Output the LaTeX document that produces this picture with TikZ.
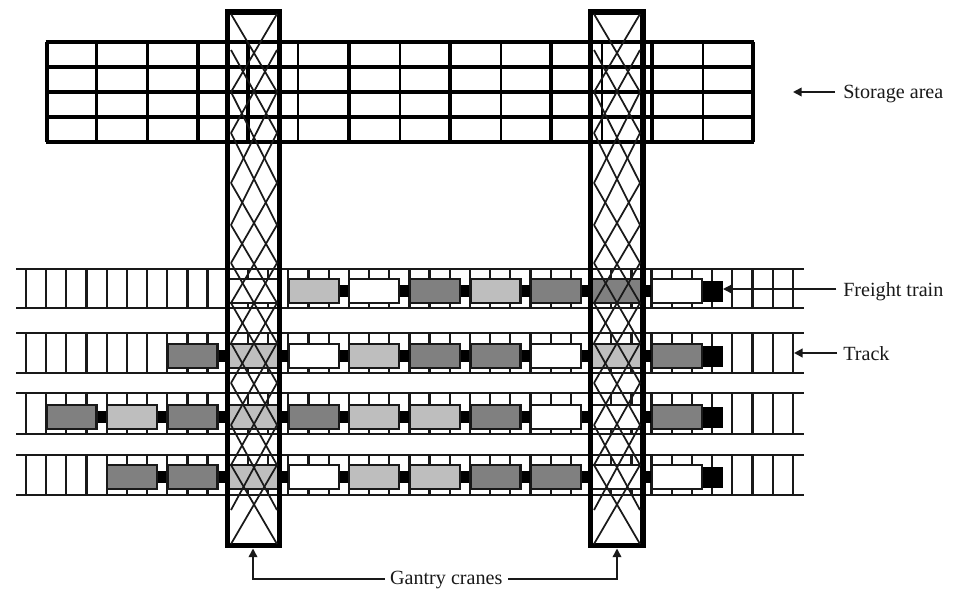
\documentclass[tikz,border=0pt]{standalone}
\usepackage{fontspec}
\setmainfont{Liberation Serif}
\usetikzlibrary{arrows.meta}
\definecolor{cardark}{HTML}{808080}
\definecolor{carlight}{HTML}{BEBEBE}
\tikzset{
  gridline/.style={line width=2.7pt,black},
  gridthin/.style={line width=2.1pt,black},
  rail/.style={line width=1.7pt,black!90},
  tie/.style={line width=1.7pt,black!90},
  car/.style={draw=black!90,line width=1.8pt},
  coupler/.style={fill=black},
  crane/.style={draw=black,line width=4.2pt},
  lattice/.style={line width=1.3pt,black!90},
  lbl/.style={font=\fontsize{15.1}{18}\selectfont,inner sep=0pt,anchor=base west,text=black!90},
  pointer/.style={-{Triangle[length=6.5pt,width=6.5pt]},black!90},
}
\begin{document}
\begin{tikzpicture}[x=0.75pt,y=-0.75pt]
\useasboundingbox (0,0) rectangle (970,593);
\fill[white] (0,0) rectangle (970,593);
% storage area
\foreach \y in {42,67,92,117,142} \draw[gridline] (45.5,\y) -- (754,\y);
\foreach \x in {46.7,96.5,198,248,349,450,551,652,753} \draw[gridline] (\x,42) -- (\x,142);
\foreach \x in {147.5,298,400,501,602,703} \draw[gridthin] (\x,42) -- (\x,142);
% tracks
\foreach \top/\bot in {269/308,333/373,393/434,455/495}{
  \foreach \i in {0,...,38} \draw[tie] ({26+20.18*\i},\top) -- ({26+20.18*\i},\bot);
  \draw[rail] (16,\top) -- (804,\top) (16,\bot) -- (804,\bot);
}
% trains: row centre / list of cars
\foreach \cy/\first/\cars in {
  291/4/{4/carlight,5/white,6/cardark,7/carlight,8/cardark,9/cardark,10/white},
  356/2/{2/cardark,3/carlight,4/white,5/carlight,6/cardark,7/cardark,8/white,9/carlight,10/cardark},
  417/0/{0/cardark,1/carlight,2/cardark,3/carlight,4/cardark,5/carlight,6/carlight,7/cardark,8/white,9/white,10/cardark},
  477/1/{1/cardark,2/cardark,3/carlight,4/white,5/carlight,6/carlight,7/cardark,8/cardark,9/white,10/white}}{
  \foreach \k in {\first,...,9}
    \fill[coupler] ({46.5+60.55*\k+48},\cy-6) rectangle ({46.5+60.55*\k+63},\cy+6);
  \foreach \k/\c in \cars
    \draw[car,fill=\c] ({46.5+60.55*\k},\cy-12) rectangle ({46.5+60.55*\k+50},\cy+12);
  \fill[black] (702.5,\cy-10.5) rectangle (723,\cy+10.5);
}
% row 1: car under the first crane
\draw[car,fill=white] (228,279) rectangle (278,303);
% cranes
\draw[crane] (227.5,12) rectangle (279.5,545.5);
\draw[crane] (590.5,12) rectangle (643,545.5);
\foreach \lx/\rx in {231/277,594/640}
  \foreach \a/\b in {14/92,50/133,92/183,133/225,183/263,225/303,263/343,303/383,343/425,383/465,425/510,465/544}
    \draw[lattice] (\lx,\a) -- (\rx,\b) (\rx,\a) -- (\lx,\b);
% labels and pointers
\node[lbl] (storage) at (843,98) {Storage area};
\node[lbl] (freight) at (843,296) {Freight train};
\node[lbl] (track) at (843,360) {Track};
\node[lbl,inner xsep=4pt] (gantry) at (384.5,584) {Gantry cranes};
\coordinate (storagetip) at (793,92);
\coordinate (freighttip) at (723,289);
\coordinate (tracktip) at (794,353);
\coordinate (gantrytipa) at (253,548.5);
\coordinate (gantrytipb) at (617,548.5);
\coordinate (gantryline) at (446,579);
\draw[pointer,line width=1.2pt] ([xshift=-6pt]storagetip -| storage.west) -- (storagetip);
\draw[pointer,line width=1pt] ([xshift=-5pt]freighttip -| freight.west) -- (freighttip);
\draw[pointer,line width=1.6pt] ([xshift=-4.5pt]tracktip -| track.west) -- (tracktip);
\draw[pointer,line width=1.2pt] (gantryline -| gantry.west) -| (gantrytipa);
\draw[pointer,line width=1.2pt] (gantryline -| gantry.east) -| (gantrytipb);
\end{tikzpicture}
\end{document}
